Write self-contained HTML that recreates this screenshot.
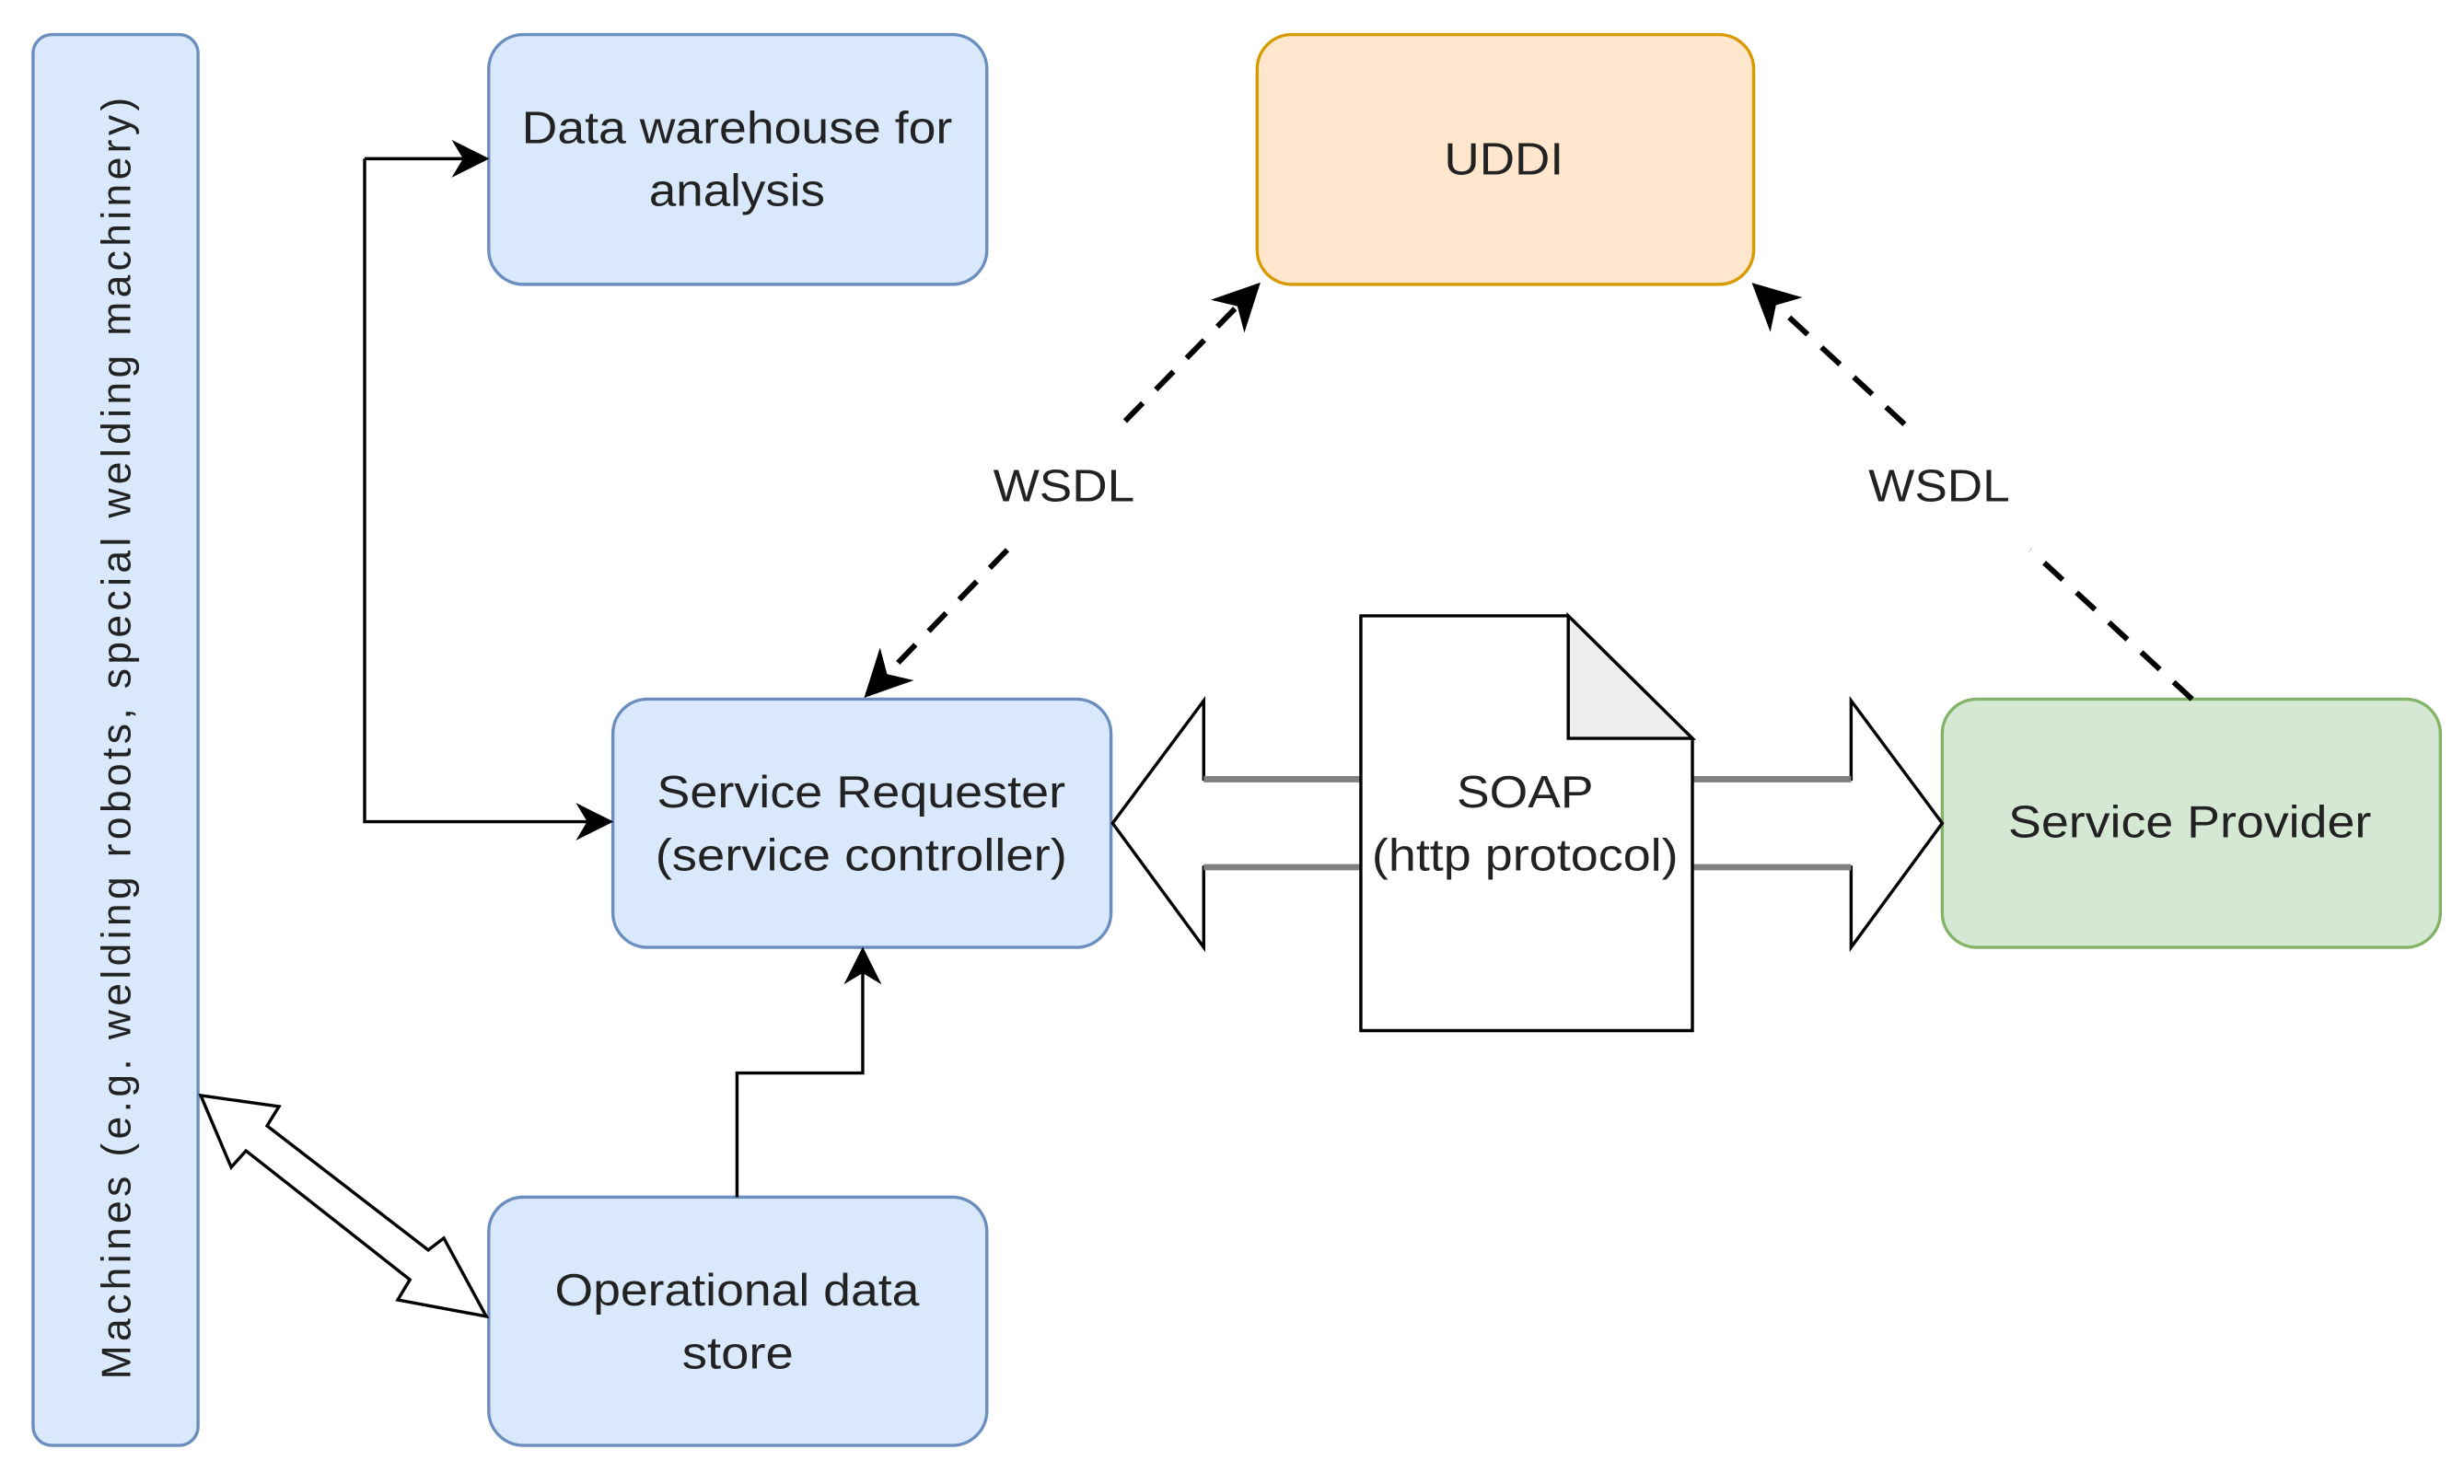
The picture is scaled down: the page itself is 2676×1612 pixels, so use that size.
<!DOCTYPE html>
<html><head><meta charset="utf-8"><style>html,body{margin:0;padding:0;background:#fff}svg{display:block}</style></head>
<body>
<svg width="2676" height="1612" viewBox="0 0 1568 944.6" xmlns="http://www.w3.org/2000/svg" font-family="Liberation Sans, sans-serif">
<defs>
<marker id="b" viewBox="0 0 10 10" refX="9" refY="5" markerWidth="30" markerHeight="30" markerUnits="userSpaceOnUse" orient="auto"><path d="M0,0 L10,5 L0,10 L3,5 Z" fill="#000"/></marker>
<marker id="c" viewBox="0 0 10 10" refX="9" refY="5" markerWidth="24" markerHeight="24" markerUnits="userSpaceOnUse" orient="auto"><path d="M0,0 L10,5 L0,10 L3,5 Z" fill="#000"/></marker>
</defs>
<rect x="21" y="22" width="105" height="898" rx="12" fill="#dae8fc" stroke="#6c8ebf" stroke-width="2"/>
<text transform="translate(83,470) rotate(-90)" text-anchor="middle" font-size="26" fill="#222" textLength="816" lengthAdjust="spacing">Machines (e.g. welding robots, special welding machinery)</text>
<g font-size="29" fill="#222" lengthAdjust="spacingAndGlyphs">
<rect x="311" y="22" width="317" height="159" rx="22" fill="#dae8fc" stroke="#6c8ebf" stroke-width="2"/>
<text x="332" y="91" textLength="274" lengthAdjust="spacingAndGlyphs">Data warehouse for</text>
<text x="413" y="131" textLength="112" lengthAdjust="spacingAndGlyphs">analysis</text>
<rect x="800" y="22" width="316" height="159" rx="22" fill="#ffe6cc" stroke="#d79b00" stroke-width="2"/>
<text x="919" y="111" textLength="76" lengthAdjust="spacingAndGlyphs">UDDI</text>
<rect x="390" y="445" width="317" height="158" rx="22" fill="#dae8fc" stroke="#6c8ebf" stroke-width="2"/>
<text x="418" y="514" textLength="260" lengthAdjust="spacingAndGlyphs">Service Requester</text>
<text x="417" y="554" textLength="262" lengthAdjust="spacingAndGlyphs">(service controller)</text>
<rect x="1236" y="445" width="317" height="158" rx="22" fill="#d5e8d4" stroke="#82b366" stroke-width="2"/>
<text x="1278" y="533" textLength="231" lengthAdjust="spacingAndGlyphs">Service Provider</text>
<rect x="311" y="762" width="317" height="158" rx="22" fill="#dae8fc" stroke="#6c8ebf" stroke-width="2"/>
<text x="353" y="831" textLength="232" lengthAdjust="spacingAndGlyphs">Operational data</text>
<text x="434" y="871" textLength="71" lengthAdjust="spacingAndGlyphs">store</text>
</g>
<path d="M866,496 L766,496 L766,446 L708,524 L766,603 L766,552 L866,552" fill="#fff" stroke="#000" stroke-width="2"/>
<path d="M1077,496 L1178,496 L1178,446 L1236,524 L1178,603 L1178,552 L1077,552" fill="#fff" stroke="#000" stroke-width="2"/>
<line x1="766" y1="496" x2="866" y2="496" stroke="#808080" stroke-width="4"/>
<line x1="766" y1="552" x2="866" y2="552" stroke="#808080" stroke-width="4"/>
<line x1="1077" y1="496" x2="1178" y2="496" stroke="#808080" stroke-width="4"/>
<line x1="1077" y1="552" x2="1178" y2="552" stroke="#808080" stroke-width="4"/>
<path d="M866,392 L998,392 L1077,470 L1077,656 L866,656 Z" fill="#fff" stroke="#000" stroke-width="2"/>
<path d="M998,392 L998,470 L1077,470 Z" fill="#eee" stroke="#000" stroke-width="2"/>
<g font-size="29" fill="#222">
<text x="927" y="514" textLength="87" lengthAdjust="spacingAndGlyphs">SOAP</text>
<text x="873" y="554" textLength="195" lengthAdjust="spacingAndGlyphs">(http protocol)</text>
<text x="632" y="319" textLength="90" lengthAdjust="spacingAndGlyphs">WSDL</text>
<text x="1189" y="319" textLength="90" lengthAdjust="spacingAndGlyphs">WSDL</text>
</g>
<path d="M232,101 L232,523 L388,523" fill="none" stroke="#000" stroke-width="2" marker-end="url(#c)"/>
<path d="M232,101 L309,101" fill="none" stroke="#000" stroke-width="2" marker-end="url(#c)"/>
<path d="M469,762 L469,683 L549,683 L549,605" fill="none" stroke="#000" stroke-width="2" marker-end="url(#c)"/>
<polygon points="127.7,697.3 177.5,704.3 169.9,716.6 272.5,795.7 282.4,788.1 309.4,837.9 253.1,827.4 260.8,814.5 156.5,732.5 147.1,743" fill="#fff" stroke="#000" stroke-width="2"/>
<line x1="641" y1="350" x2="552" y2="442" stroke="#000" stroke-width="3.5" stroke-dasharray="16 12" marker-end="url(#b)"/>
<line x1="716" y1="268" x2="800" y2="182" stroke="#000" stroke-width="3.5" stroke-dasharray="16 12" marker-end="url(#b)"/>
<line x1="1395" y1="445" x2="1292" y2="350" stroke="#000" stroke-width="3.5" stroke-dasharray="16 12"/>
<line x1="1212" y1="270" x2="1117" y2="182" stroke="#000" stroke-width="3.5" stroke-dasharray="16 12" marker-end="url(#b)"/>
</svg>
</body></html>
